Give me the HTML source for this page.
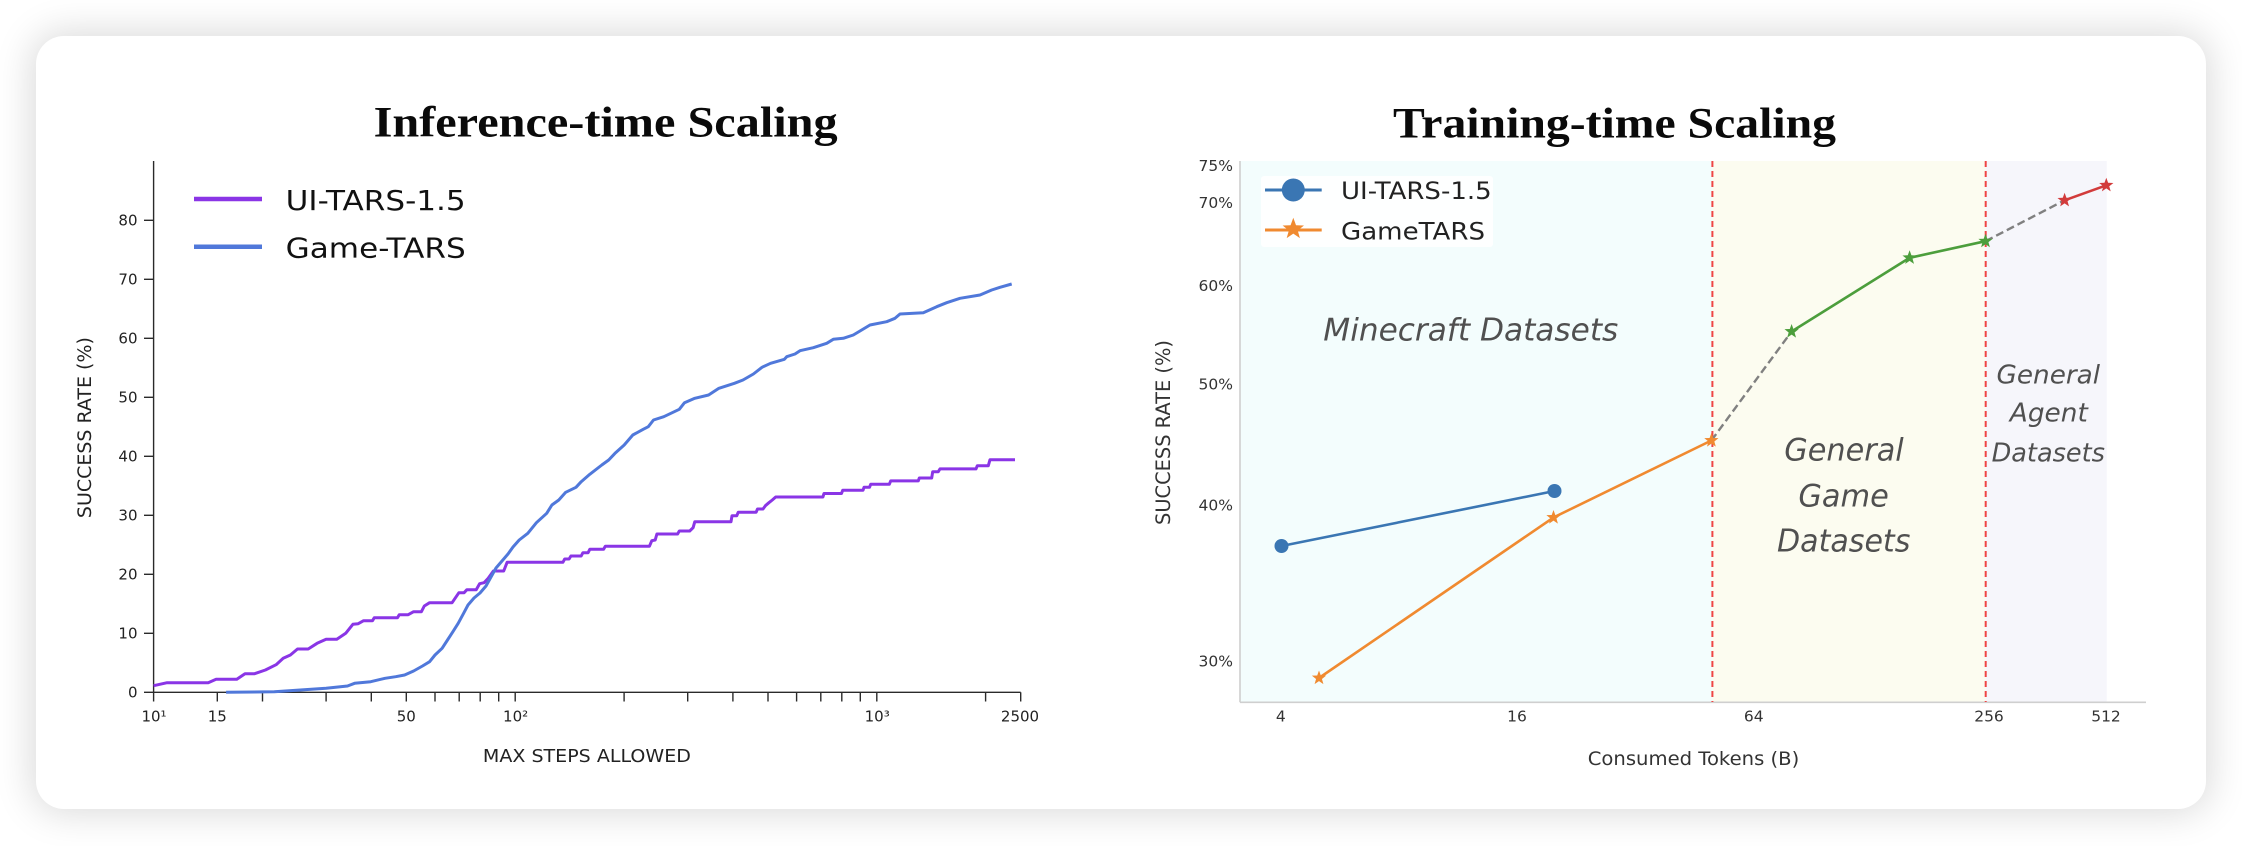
<!DOCTYPE html>
<html>
<head>
<meta charset="utf-8">
<style>
  html,body{margin:0;padding:0;background:#ffffff;}
  body{width:2242px;height:846px;position:relative;overflow:hidden;}
  .card{position:absolute;left:36px;top:36px;width:2170px;height:773px;border-radius:28px;background:#fff;box-shadow:0 0 38px 4px rgba(0,0,0,0.15);}
  svg{position:absolute;left:0;top:0;}
  .t{font-family:"DejaVu Sans","Liberation Sans",sans-serif;}
  .title{font-family:"Liberation Serif","DejaVu Serif",serif;font-weight:bold;fill:#0a0a0a;}
  .ann{font-family:"DejaVu Sans","Liberation Sans",sans-serif;font-style:oblique;fill:#505050;}
</style>
</head>
<body>
<div class="card"></div>
<svg width="2242" height="846" viewBox="0 0 2242 846" xmlns="http://www.w3.org/2000/svg">
  <defs>
    <path id="st" d="M0,-7.5 L1.82,-2.51 L7.13,-2.32 L2.95,0.96 L4.41,6.07 L0,3.1 L-4.41,6.07 L-2.95,0.96 L-7.13,-2.32 L-1.82,-2.51 Z"/>
  </defs>

  <!-- ================= LEFT CHART ================= -->
  <text class="title" x="373.6" y="136.7" font-size="43" textLength="464" lengthAdjust="spacingAndGlyphs">Inference-time Scaling</text>

  <!-- axes -->
  <g stroke="#2a2a2a" stroke-width="1.4" fill="none">
    <line x1="153.6" y1="161" x2="153.6" y2="692.3"/>
    <line x1="153.6" y1="692.3" x2="1020.7" y2="692.3"/>
    <!-- y ticks -->
    <line x1="144" y1="692.3" x2="153.6" y2="692.3"/>
    <line x1="144" y1="633.3" x2="153.6" y2="633.3"/>
    <line x1="144" y1="574.3" x2="153.6" y2="574.3"/>
    <line x1="144" y1="515.3" x2="153.6" y2="515.3"/>
    <line x1="144" y1="456.3" x2="153.6" y2="456.3"/>
    <line x1="144" y1="397.3" x2="153.6" y2="397.3"/>
    <line x1="144" y1="338.3" x2="153.6" y2="338.3"/>
    <line x1="144" y1="279.3" x2="153.6" y2="279.3"/>
    <line x1="144" y1="220.3" x2="153.6" y2="220.3"/>
    <!-- x ticks -->
    <line x1="153.6" y1="692.3" x2="153.6" y2="701.5"/>
    <line x1="217.3" y1="692.3" x2="217.3" y2="701.5"/>
    <line x1="262.5" y1="692.3" x2="262.5" y2="701.5"/>
    <line x1="326.1" y1="692.3" x2="326.1" y2="701.5"/>
    <line x1="371.3" y1="692.3" x2="371.3" y2="701.5"/>
    <line x1="406.3" y1="692.3" x2="406.3" y2="701.5"/>
    <line x1="435.0" y1="692.3" x2="435.0" y2="701.5"/>
    <line x1="459.2" y1="692.3" x2="459.2" y2="701.5"/>
    <line x1="480.2" y1="692.3" x2="480.2" y2="701.5"/>
    <line x1="498.7" y1="692.3" x2="498.7" y2="701.5"/>
    <line x1="515.2" y1="692.3" x2="515.2" y2="701.5"/>
    <line x1="624.1" y1="692.3" x2="624.1" y2="701.5"/>
    <line x1="687.7" y1="692.3" x2="687.7" y2="701.5"/>
    <line x1="732.9" y1="692.3" x2="732.9" y2="701.5"/>
    <line x1="768.0" y1="692.3" x2="768.0" y2="701.5"/>
    <line x1="796.6" y1="692.3" x2="796.6" y2="701.5"/>
    <line x1="820.8" y1="692.3" x2="820.8" y2="701.5"/>
    <line x1="841.8" y1="692.3" x2="841.8" y2="701.5"/>
    <line x1="860.3" y1="692.3" x2="860.3" y2="701.5"/>
    <line x1="876.8" y1="692.3" x2="876.8" y2="701.5"/>
    <line x1="985.6" y1="692.3" x2="985.6" y2="701.5"/>
    <line x1="1020.7" y1="692.3" x2="1020.7" y2="701.5"/>
  </g>

  <!-- y tick labels -->
  <g class="t" font-size="15" fill="#222" text-anchor="end">
    <text x="137.5" y="697.7">0</text>
    <text x="137.5" y="638.7">10</text>
    <text x="137.5" y="579.7">20</text>
    <text x="137.5" y="520.7">30</text>
    <text x="137.5" y="461.7">40</text>
    <text x="137.5" y="402.7">50</text>
    <text x="137.5" y="343.7">60</text>
    <text x="137.5" y="284.7">70</text>
    <text x="137.5" y="225.7">80</text>
  </g>
  <!-- x tick labels -->
  <g class="t" font-size="15" fill="#222" text-anchor="middle">
    <text x="154" y="721.5">10¹</text>
    <text x="217.3" y="721.5">15</text>
    <text x="406.3" y="721.5">50</text>
    <text x="515.6" y="721.5">10²</text>
    <text x="877.2" y="721.5">10³</text>
    <text x="1020" y="721.5">2500</text>
  </g>
  <text class="t" x="586.9" y="762" font-size="18" fill="#222" text-anchor="middle" textLength="208" lengthAdjust="spacingAndGlyphs">MAX STEPS ALLOWED</text>
  <text class="t" transform="translate(91,427.6) rotate(-90)" font-size="18.5" fill="#222" text-anchor="middle" textLength="181" lengthAdjust="spacingAndGlyphs">SUCCESS RATE (%)</text>

  <!-- series -->
  <polyline fill="none" stroke="#8a35e6" stroke-width="3" stroke-linejoin="round" points="153.6,685.7 167.1,682.7 208.2,682.7 216.1,679.3 236.8,679.3 245,673.7 254.6,673.7 265.4,670 276.1,664.7 283.2,658.3 290.4,655 297.5,649 308.2,649 317.1,643.3 326.1,639.3 336.8,639.3 345.7,633.3 352.9,624.3 358.2,623.7 363.6,620.7 372.5,620.7 374.3,617.7 397.5,617.7 399.3,614.7 408.2,614.7 413.6,611.7 421.4,611.7 424.3,606 429.6,602.7 452.1,602.7 458.9,592.7 464.1,592.7 466.9,589.7 476.2,589.7 479.6,583.7 484.1,582.7 488.2,578.3 493.4,571 503.7,571 507.1,562.3 562.9,562.3 564.7,559 569.1,559 570.9,556 581.2,556 582.9,552.7 588.1,552.7 589.8,549.3 603.6,549.3 605.3,546.3 649.4,546.3 651.8,540.7 655.2,540 656.9,534 677.6,534 679.3,531 689.7,531 693.1,527.7 694.8,521.7 731,521.7 732,515.7 736.8,515.7 738.2,512.3 756.1,512.3 757.5,509 763,509 765.4,505.7 768.9,502.7 772.3,500 775.7,497 822.9,497 824,493.5 841.5,493.5 842.7,490.3 863,490.3 864,487.3 869.5,487.3 870.7,484.3 889.3,484.3 890.7,480.9 918.3,480.9 919.3,478 931.7,478 932.7,471.7 938.3,471.7 940,468.9 976,468.9 977.3,465.7 988.3,465.7 990,459.7 1015,459.7"/>
  <polyline fill="none" stroke="#5078da" stroke-width="3" stroke-linejoin="round" points="226.1,692.3 274.3,691.7 326.1,688.3 347.5,686 354.6,683.3 370.7,681.7 385,678.3 395.7,676.7 404.6,675 413.6,671 422.5,666 429.6,661.7 435,655 442.1,648.3 447.5,640 452.9,631.7 458.2,623.3 463.6,613.3 468,605 474,598 480,593 486,586 491,577 496,568 502,561 508,554 513,547 519.2,540 527.8,533.3 536.4,522.7 546.7,513.3 551.9,505 558.8,500 565.7,492.3 576,487.3 581.2,481.7 589.8,474.3 601.8,465 608.7,460 615.6,452.7 624.2,445 632.8,435 643.2,429.3 648.3,426.7 653.5,420 663.8,416.7 679.3,409.3 684.5,402.7 694.8,398.3 708.6,395 718.9,388.3 734.4,383.3 743,380 753.4,374 762,367.3 770.6,363.3 784.4,359.3 786.7,356.7 795,354 800,350.7 813.3,347.7 826.7,343.3 833.3,339.3 843.3,338.3 853.3,335 860,331 870,325 886.7,321.7 895,318.3 900,314 923.3,312.7 936.7,306.7 946.7,302.7 960,298.3 980,295 991.7,290 1000,287.3 1011.7,284"/>

  <!-- legend left -->
  <line x1="194" y1="199" x2="262" y2="199" stroke="#8a35e6" stroke-width="4.5"/>
  <line x1="194" y1="246.7" x2="262" y2="246.7" stroke="#5078da" stroke-width="4.5"/>
  <text class="t" x="285.7" y="210" font-size="28" fill="#111" textLength="180" lengthAdjust="spacingAndGlyphs">UI-TARS-1.5</text>
  <text class="t" x="285.7" y="257.3" font-size="28" fill="#111" textLength="180" lengthAdjust="spacingAndGlyphs">Game-TARS</text>

  <!-- ================= RIGHT CHART ================= -->
  <text class="title" x="1393" y="137.5" font-size="43" textLength="443" lengthAdjust="spacingAndGlyphs">Training-time Scaling</text>

  <!-- shaded regions -->
  <rect x="1240.5" y="161" width="471.9" height="541.3" fill="#f3fdfd"/>
  <rect x="1712.4" y="161" width="273.3" height="541.3" fill="#fcfcf0"/>
  <rect x="1985.7" y="161" width="121" height="541.3" fill="#f6f6fb"/>

  <!-- spines -->
  <line x1="1240" y1="161" x2="1240" y2="702.3" stroke="#cfcfcf" stroke-width="1.6"/>
  <line x1="1240" y1="702.3" x2="2146" y2="702.3" stroke="#cfcfcf" stroke-width="1.6"/>

  <!-- red dashed dividers -->
  <line x1="1712.4" y1="161" x2="1712.4" y2="702" stroke="#ef4545" stroke-width="2" stroke-dasharray="6,4"/>
  <line x1="1985.7" y1="161" x2="1985.7" y2="702" stroke="#ef4545" stroke-width="2" stroke-dasharray="6,4"/>

  <!-- y tick labels -->
  <g class="t" font-size="15.5" fill="#333" text-anchor="end">
    <text x="1233" y="170.8">75%</text>
    <text x="1233" y="207.9">70%</text>
    <text x="1233" y="291.1">60%</text>
    <text x="1233" y="389.6">50%</text>
    <text x="1233" y="510.6">40%</text>
    <text x="1233" y="666.4">30%</text>
  </g>
  <!-- x tick labels -->
  <g class="t" font-size="15.5" fill="#333" text-anchor="middle">
    <text x="1280.8" y="721.6">4</text>
    <text x="1517" y="721.6">16</text>
    <text x="1753.8" y="721.6">64</text>
    <text x="1989" y="721.6">256</text>
    <text x="2106" y="721.6">512</text>
  </g>
  <text class="t" x="1693.5" y="765" font-size="19" fill="#333" text-anchor="middle" textLength="211.5" lengthAdjust="spacingAndGlyphs">Consumed Tokens (B)</text>
  <text class="t" transform="translate(1170,432.5) rotate(-90)" font-size="19.5" fill="#333" text-anchor="middle" textLength="185" lengthAdjust="spacingAndGlyphs">SUCCESS RATE (%)</text>

  <!-- annotations -->
  <text class="ann" x="1323.3" y="340.7" font-size="31" textLength="295" lengthAdjust="spacingAndGlyphs">Minecraft Datasets</text>
  <g class="ann" font-size="31" text-anchor="middle">
    <text x="1844" y="460.7" textLength="119.4" lengthAdjust="spacingAndGlyphs">General</text>
    <text x="1843.6" y="506.7" textLength="90.5" lengthAdjust="spacingAndGlyphs">Game</text>
    <text x="1843.7" y="551.7" textLength="133.4" lengthAdjust="spacingAndGlyphs">Datasets</text>
  </g>
  <g class="ann" font-size="26" text-anchor="middle">
    <text x="2048.3" y="383.3" textLength="103.5" lengthAdjust="spacingAndGlyphs">General</text>
    <text x="2048.8" y="421.7" textLength="78" lengthAdjust="spacingAndGlyphs">Agent</text>
    <text x="2048.3" y="461.7" textLength="113.4" lengthAdjust="spacingAndGlyphs">Datasets</text>
  </g>

  <!-- series -->
  <polyline fill="none" stroke="#3a76b3" stroke-width="2.6" points="1281.5,546 1554.5,491"/>
  <circle cx="1281.5" cy="546" r="7" fill="#3a76b3"/>
  <circle cx="1554.5" cy="491" r="7" fill="#3a76b3"/>

  <polyline fill="none" stroke="#f08a30" stroke-width="2.6" points="1319,678 1553.5,517.5 1711.4,440.5"/>
  <line x1="1711.4" y1="440.5" x2="1791.6" y2="331.5" stroke="#808080" stroke-width="2.4" stroke-dasharray="8,4"/>
  <polyline fill="none" stroke="#4c9e3c" stroke-width="2.6" points="1791.6,331.5 1909.6,257.8 1985.5,241.2"/>
  <line x1="1985.5" y1="241.2" x2="2064.6" y2="200.3" stroke="#808080" stroke-width="2.4" stroke-dasharray="8,4"/>
  <polyline fill="none" stroke="#d23b3b" stroke-width="2.6" points="2064.6,200.3 2106.3,185.3"/>

  <use href="#st" x="1319" y="678" fill="#f08a30"/>
  <use href="#st" x="1553.5" y="517.5" fill="#f08a30"/>
  <use href="#st" x="1711.4" y="440.5" fill="#f08a30"/>
  <use href="#st" x="1791.6" y="331.5" fill="#4c9e3c"/>
  <use href="#st" x="1909.6" y="257.8" fill="#4c9e3c"/>
  <use href="#st" x="1985.5" y="241.2" fill="#4c9e3c"/>
  <use href="#st" x="2064.6" y="200.3" fill="#d23b3b"/>
  <use href="#st" x="2106.3" y="185.3" fill="#d23b3b"/>

  <!-- legend right -->
  <rect x="1261" y="176" width="232" height="71" rx="3" fill="#ffffff" fill-opacity="0.85"/>
  <line x1="1265" y1="190" x2="1321.7" y2="190" stroke="#3a76b3" stroke-width="3"/>
  <circle cx="1293.3" cy="190" r="11.5" fill="#3a76b3"/>
  <line x1="1265" y1="230" x2="1321.7" y2="230" stroke="#f08a30" stroke-width="3"/>
  <use href="#st" transform="translate(1293.3,229) scale(1.5)" fill="#f08a30"/>
  <text class="t" x="1341" y="199" font-size="24" fill="#222" textLength="150.7" lengthAdjust="spacingAndGlyphs">UI-TARS-1.5</text>
  <text class="t" x="1341" y="239.3" font-size="24" fill="#222" textLength="144" lengthAdjust="spacingAndGlyphs">GameTARS</text>
</svg>
</body>
</html>
